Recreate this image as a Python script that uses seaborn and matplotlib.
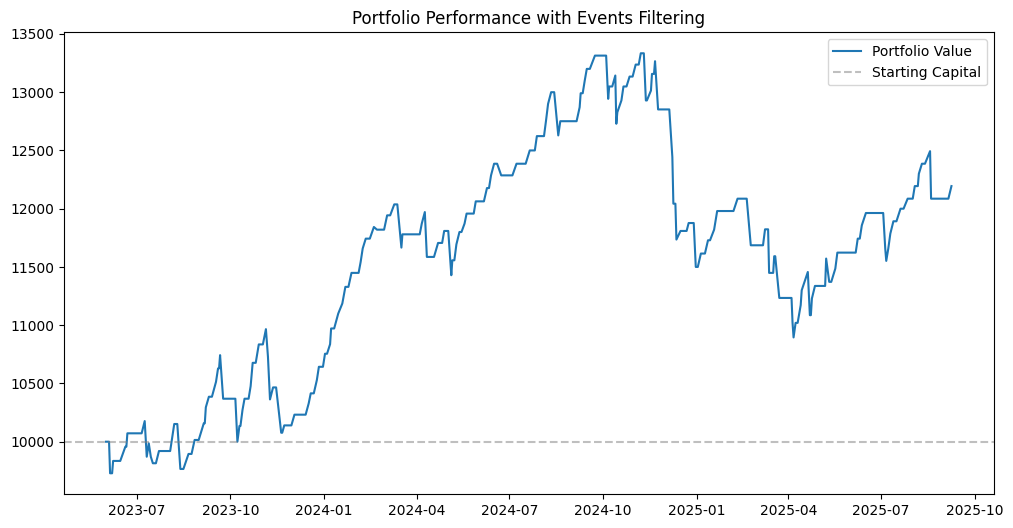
import pandas as pd
import matplotlib
matplotlib.use('Agg')
import matplotlib.pyplot as plt
import seaborn as sns

# даты и значения портфеля
dates = [
    '2023-06-01', '2023-06-04', '2023-06-05', '2023-06-07', '2023-06-08', '2023-06-15',
    '2023-06-20', '2023-06-21', '2023-06-22', '2023-07-06', '2023-07-09', '2023-07-11',
    '2023-07-13', '2023-07-15', '2023-07-17', '2023-07-20', '2023-07-23', '2023-08-03',
    '2023-08-07', '2023-08-10', '2023-08-13', '2023-08-16', '2023-08-21', '2023-08-24',
    '2023-08-27', '2023-08-31', '2023-09-05', '2023-09-06', '2023-09-07', '2023-09-10',
    '2023-09-13', '2023-09-17', '2023-09-19', '2023-09-20', '2023-09-21', '2023-09-22',
    '2023-09-24', '2023-10-06', '2023-10-08', '2023-10-10', '2023-10-11', '2023-10-13',
    '2023-10-15', '2023-10-19', '2023-10-21', '2023-10-23', '2023-10-26', '2023-10-29',
    '2023-11-02', '2023-11-05', '2023-11-07', '2023-11-09', '2023-11-12', '2023-11-15',
    '2023-11-20', '2023-11-21', '2023-11-23', '2023-11-30', '2023-12-03', '2023-12-14',
    '2023-12-17', '2023-12-19', '2023-12-22', '2023-12-25', '2023-12-27', '2023-12-31',
    '2024-01-02', '2024-01-04', '2024-01-07', '2024-01-08', '2024-01-11', '2024-01-15',
    '2024-01-19', '2024-01-22', '2024-01-25', '2024-01-28', '2024-02-04', '2024-02-06',
    '2024-02-08', '2024-02-11', '2024-02-15', '2024-02-19', '2024-02-22', '2024-02-29',
    '2024-03-03', '2024-03-06', '2024-03-10', '2024-03-13', '2024-03-17', '2024-03-18',
    '2024-04-04', '2024-04-06', '2024-04-09', '2024-04-11', '2024-04-18', '2024-04-22',
    '2024-04-26', '2024-04-28', '2024-05-02', '2024-05-05', '2024-05-06', '2024-05-08',
    '2024-05-10', '2024-05-13', '2024-05-15', '2024-05-18', '2024-05-20', '2024-05-27',
    '2024-05-29', '2024-06-06', '2024-06-09', '2024-06-11', '2024-06-13', '2024-06-16',
    '2024-06-19', '2024-06-23', '2024-07-04', '2024-07-08', '2024-07-17', '2024-07-21',
    '2024-07-26', '2024-07-28', '2024-08-04', '2024-08-06', '2024-08-08', '2024-08-11',
    '2024-08-14', '2024-08-18', '2024-08-20', '2024-09-05', '2024-09-08', '2024-09-09',
    '2024-09-11', '2024-09-13', '2024-09-15', '2024-09-18', '2024-09-23', '2024-10-04',
    '2024-10-06', '2024-10-07', '2024-10-10', '2024-10-13', '2024-10-14', '2024-10-15',
    '2024-10-19', '2024-10-21', '2024-10-24', '2024-10-27', '2024-10-30', '2024-11-02',
    '2024-11-05', '2024-11-07', '2024-11-10', '2024-11-12', '2024-11-13', '2024-11-17',
    '2024-11-18', '2024-11-20', '2024-11-21', '2024-11-24', '2024-12-05', '2024-12-08',
    '2024-12-09', '2024-12-11', '2024-12-12', '2024-12-16', '2024-12-22', '2024-12-24',
    '2024-12-29', '2024-12-31', '2025-01-02', '2025-01-05', '2025-01-09', '2025-01-12',
    '2025-01-14', '2025-01-18', '2025-01-21', '2025-02-06', '2025-02-10', '2025-02-19',
    '2025-02-23', '2025-03-07', '2025-03-09', '2025-03-12', '2025-03-13', '2025-03-17',
    '2025-03-18', '2025-03-19', '2025-03-23', '2025-04-04', '2025-04-05', '2025-04-06',
    '2025-04-08', '2025-04-10', '2025-04-13', '2025-04-14', '2025-04-20', '2025-04-22',
    '2025-04-23', '2025-04-24', '2025-04-27', '2025-05-07', '2025-05-08', '2025-05-11',
    '2025-05-13', '2025-05-17', '2025-05-19', '2025-06-06', '2025-06-08', '2025-06-10',
    '2025-06-12', '2025-06-16', '2025-07-03', '2025-07-05', '2025-07-06', '2025-07-08',
    '2025-07-10', '2025-07-13', '2025-07-16', '2025-07-20', '2025-07-23', '2025-07-27',
    '2025-08-01', '2025-08-03', '2025-08-06', '2025-08-07', '2025-08-10', '2025-08-13',
    '2025-08-18', '2025-08-19', '2025-09-05', '2025-09-08',
]
values = [
    10000, 10000, 9729, 9729, 9835, 9835,
    9957, 9957, 10072, 10072, 10177, 9871,
    9986, 9871, 9815, 9815, 9920, 9920,
    10152, 10152, 9766, 9766, 9895, 9895,
    10015, 10015, 10158, 10158, 10295, 10386,
    10386, 10514, 10629, 10629, 10743, 10622,
    10369, 10369, 10000, 10135, 10135, 10272,
    10369, 10369, 10477, 10677, 10677, 10835,
    10835, 10966, 10729, 10363, 10466, 10466,
    10077, 10077, 10140, 10140, 10232, 10232,
    10329, 10415, 10415, 10529, 10643, 10643,
    10755, 10755, 10837, 10972, 10972, 11100,
    11186, 11329, 11329, 11449, 11449, 11543,
    11658, 11743, 11743, 11843, 11820, 11820,
    11943, 11943, 12037, 12037, 11666, 11780,
    11780, 11872, 11971, 11586, 11586, 11706,
    11706, 11809, 11809, 11429, 11557, 11557,
    11694, 11800, 11800, 11872, 11958, 11958,
    12063, 12063, 12177, 12177, 12286, 12386,
    12386, 12286, 12286, 12386, 12386, 12500,
    12500, 12623, 12623, 12757, 12900, 13000,
    13000, 12629, 12751, 12751, 12871, 12991,
    12991, 13100, 13200, 13200, 13314, 13314,
    12943, 13049, 13049, 13143, 12729, 12828,
    12929, 13049, 13049, 13134, 13134, 13237,
    13237, 13334, 13334, 12929, 12929, 13014,
    13157, 13157, 13266, 12852, 12852, 12443,
    12043, 12043, 11735, 11809, 11809, 11877,
    11877, 11500, 11500, 11615, 11615, 11729,
    11729, 11820, 11980, 11980, 12086, 12086,
    11686, 11686, 11823, 11823, 11449, 11449,
    11592, 11592, 11234, 11234, 11020, 10895,
    11020, 11020, 11172, 11300, 11457, 11086,
    11086, 11229, 11337, 11337, 11572, 11372,
    11372, 11486, 11623, 11623, 11743, 11743,
    11857, 11963, 11963, 11658, 11552, 11658,
    11786, 11892, 11892, 12000, 12000, 12086,
    12086, 12194, 12194, 12300, 12386, 12386,
    12494, 12086, 12086, 12194,
]
starting_capital = 10000

df = pd.DataFrame({'date': pd.to_datetime(dates), 'value': values})

plt.figure(figsize=(12, 6))
ax = sns.lineplot(data=df, x='date', y='value', label='Portfolio Value')
ax.axhline(starting_capital, color='gray', linestyle='--', alpha=0.5, label='Starting Capital')

plt.title('Portfolio Performance with Events Filtering')
plt.xlabel('')
plt.ylabel('')
plt.legend(loc='upper right')

plt.savefig('out.png', dpi=100, bbox_inches='tight')
